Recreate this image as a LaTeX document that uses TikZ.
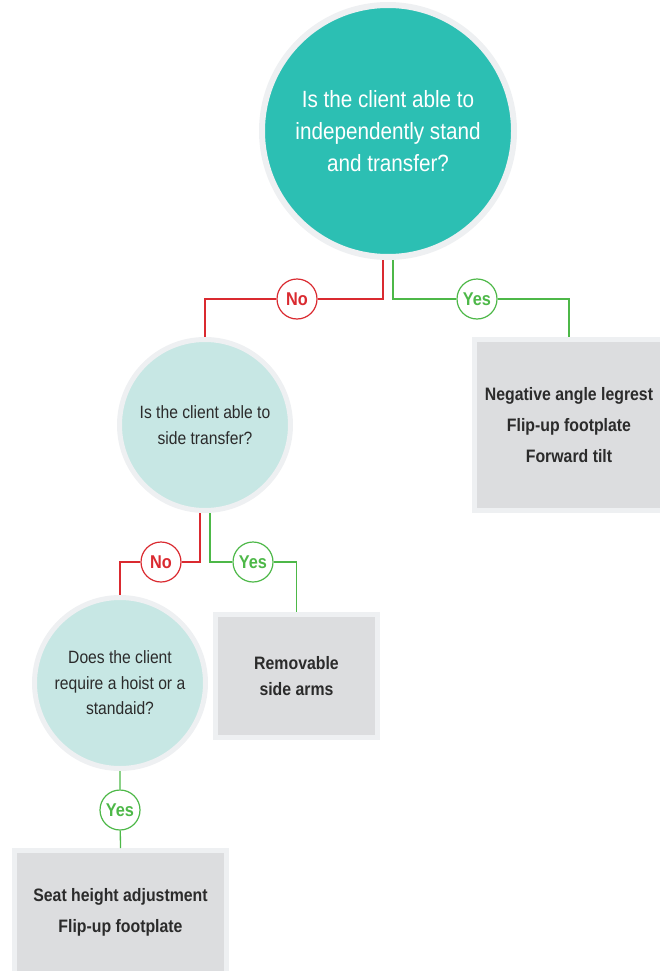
\documentclass[tikz,border=0pt]{standalone}
\usepackage{fontspec}
\setmainfont{Liberation Sans}[FakeStretch=0.88]
\usepackage{tikz}
\usetikzlibrary{positioning,shapes.geometric}
\definecolor{teal1}{HTML}{2CBFB3}
\definecolor{teal2}{HTML}{C7E7E4}
\definecolor{ringgray}{HTML}{EEF0F2}
\definecolor{boxgray}{HTML}{DCDDDF}
\definecolor{txtgray}{HTML}{2B2B2B}
\definecolor{nored}{HTML}{DA2A30}
\definecolor{yesgreen}{HTML}{4DB848}
\tikzset{
    bigq/.style={
        circle,
        fill=teal1,
        draw=ringgray, line width=6pt,
        minimum size=252pt,
        text=white,
        align=center,
        font={\fontsize{23.5pt}{32pt}\selectfont}
    },
    smallq/.style={
        circle,
        fill=teal2,
        draw=ringgray, line width=5pt,
        minimum size=171pt,
        text=txtgray,
        align=center,
        font={\fontsize{17.8pt}{25.5pt}\selectfont}
    },
    answer/.style={
        rectangle,
        fill=boxgray,
        draw=ringgray, line width=5pt,
        text=txtgray,
        align=center,
        font={\fontsize{18pt}{31pt}\selectfont\bfseries}
    },
    nolabel/.style={circle, draw=nored, fill=white, line width=1.2pt,
        minimum size=40pt, inner sep=0pt, text=nored,
        font={\fontsize{18.5pt}{20pt}\selectfont\bfseries}},
    yeslabel/.style={nolabel, draw=yesgreen, text=yesgreen},
    noline/.style={draw=nored, line width=1.3pt},
    yesline/.style={draw=yesgreen, line width=1.3pt},
}
\begin{document}
\begin{tikzpicture}[x=1pt, y=-1pt]
\useasboundingbox (0,0) rectangle (660,971);
% questions
\node[bigq] (stand) at (388,131) {Is the client able to\\independently stand\\and transfer?};
\node[smallq] (side) at (205,425) {Is the client able to\\side transfer?};
\node[smallq] (hoist) at (120,683) {Does the client\\require a hoist or a\\standaid?};
% answers
\node[answer, minimum width=190pt, minimum height=171pt] (legrest) at (569,425)
    {Negative angle legrest\\Flip-up footplate\\Forward tilt};
\node[answer, minimum width=162pt, minimum height=123pt, font={\fontsize{18pt}{26pt}\selectfont\bfseries}] (arms) at (296.5,676)
    {Removable\\side arms};
\node[answer, minimum width=212pt, minimum height=124pt] (seat) at (120.5,912.5)
    {Seat height adjustment\\Flip-up footplate};
% labels
\node[nolabel] (no1) at (297,299) {No};
\node[yeslabel] (yes1) at (477,299) {Yes};
\node[nolabel] (no2) at (161,562) {No};
\node[yeslabel] (yes2) at (253,562) {Yes};
\node[yeslabel] (yes3) at (120,810) {Yes};
% connectors
\draw[noline] ([xshift=-5pt]stand.south) |- (no1) -| (side.north);
\draw[yesline] ([xshift=5pt]stand.south) |- (yes1) -| (legrest.north);
\draw[noline] ([xshift=-5pt]side.south) |- (no2) -| (hoist.north);
\draw[yesline] ([xshift=5pt]side.south) |- (yes2) -| (arms.north);
\draw[yesline] (hoist.south) -- (yes3) -- (seat.north);
\end{tikzpicture}
\end{document}
